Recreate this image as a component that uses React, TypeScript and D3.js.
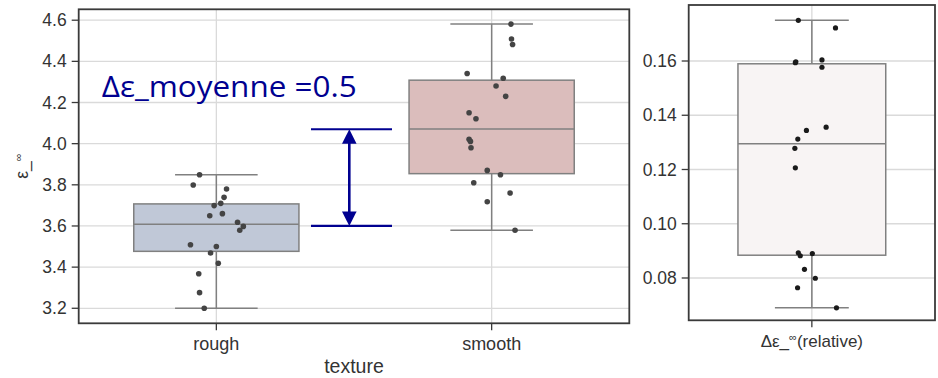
import React from "react";
import * as d3 from "d3";

// texture groups (left panel)
const categories = ["rough", "smooth"];
const roughValues = [3.849, 3.799, 3.78, 3.739, 3.71, 3.699, 3.65, 3.66, 3.618, 3.598, 3.579, 3.509, 3.5, 3.469, 3.419, 3.368, 3.276, 3.2];
const roughJitter = [-0.061, -0.084, 0.037, 0.028, 0.016, -0.008, -0.024, 0.022, 0.077, 0.098, 0.085, -0.094, 0, -0.021, 0.007, -0.064, -0.061, -0.044];
const smoothValues = [4.581, 4.509, 4.482, 4.341, 4.318, 4.28, 4.23, 4.15, 4.121, 4.021, 4.011, 3.98, 3.87, 3.849, 3.81, 3.76, 3.718, 3.579];
const smoothJitter = [0.07, 0.072, 0.076, -0.089, 0.042, 0.016, 0.051, -0.082, -0.057, -0.082, -0.077, -0.075, -0.016, 0.032, -0.065, 0.067, -0.016, 0.085];
const leftTicks = [3.2, 3.4, 3.6, 3.8, 4.0, 4.2, 4.4, 4.6];

// relative difference (right panel)
const relCategory = ["Δε_∞(relative)"];
const relValues = [0.175, 0.1722, 0.1594, 0.1597, 0.1604, 0.1577, 0.1356, 0.1344, 0.1312, 0.1278, 0.1206, 0.0893, 0.0882, 0.089, 0.0832, 0.0799, 0.0764, 0.069];
const relJitter = [-0.055, 0.096, -0.067, -0.065, 0.041, 0.041, 0.058, -0.022, -0.057, -0.069, -0.067, -0.055, -0.047, 0.002, -0.03, 0.014, -0.058, 0.1];
const rightTicks = [0.08, 0.1, 0.12, 0.14, 0.16];

// annotation
const annotationText = "Δε_moyenne =0.5";
const arrowLevels = [3.6, 4.07];

const FONT = "'Liberation Sans', Arial, sans-serif";
const TEXT = "#333333";
const GRID = "#dadada";
const FRAME = "#3a3a3a";
const BOXLINE = "#808080";
const NAVY = "#000090";

function boxStats(values: number[]) {
  const s = values.slice().sort(d3.ascending);
  const q1 = d3.quantile(s, 0.25)!;
  const med = d3.quantile(s, 0.5)!;
  const q3 = d3.quantile(s, 0.75)!;
  const iqr = q3 - q1;
  const lo = d3.min(s.filter((v) => v >= q1 - 1.5 * iqr))!;
  const hi = d3.max(s.filter((v) => v <= q3 + 1.5 * iqr))!;
  return { q1, med, q3, lo, hi };
}

function Box({ x, y, cat, values, jitter, fill, dot, r }: any) {
  const st = boxStats(values);
  const bw = x.bandwidth();
  const cx = x(cat) + bw / 2;
  const w = bw * 0.6;
  return (
    <g>
      <line x1={cx} x2={cx} y1={y(st.hi)} y2={y(st.lo)} stroke={BOXLINE} strokeWidth={1.5} />
      <line x1={cx - w / 4} x2={cx + w / 4} y1={y(st.hi)} y2={y(st.hi)} stroke={BOXLINE} strokeWidth={1.5} />
      <line x1={cx - w / 4} x2={cx + w / 4} y1={y(st.lo)} y2={y(st.lo)} stroke={BOXLINE} strokeWidth={1.5} />
      <rect x={cx - w / 2} width={w} y={y(st.q3)} height={y(st.q1) - y(st.q3)} fill={fill} stroke={BOXLINE} strokeWidth={1.5} />
      <line x1={cx - w / 2} x2={cx + w / 2} y1={y(st.med)} y2={y(st.med)} stroke={BOXLINE} strokeWidth={1.5} />
      {values.map((v: number, i: number) => (
        <circle key={i} cx={cx + jitter[i] * bw} cy={y(v)} r={r} fill={dot} />
      ))}
    </g>
  );
}

function Panel({ x, y, ticks, fmt, children, xLabel }: any) {
  const [x0, x1] = x.range();
  const [y0, y1] = y.range();
  return (
    <g fontFamily={FONT}>
      {ticks.map((t: number) => (
        <line key={"g" + t} x1={x0} x2={x1} y1={y(t)} y2={y(t)} stroke={GRID} strokeWidth={1.3} />
      ))}
      {x.domain().map((c: string) => (
        <line key={"v" + c} x1={x(c) + x.bandwidth() / 2} x2={x(c) + x.bandwidth() / 2} y1={y1} y2={y0} stroke={GRID} strokeWidth={1.3} />
      ))}
      {children}
      <rect x={x0} y={y1} width={x1 - x0} height={y0 - y1} fill="none" stroke={FRAME} strokeWidth={1.8} />
      {ticks.map((t: number) => (
        <g key={"t" + t}>
          <line x1={x0 - 7} x2={x0} y1={y(t)} y2={y(t)} stroke={FRAME} strokeWidth={1.3} />
          <text x={x0 - 12} y={y(t)} dy="0.35em" textAnchor="end" fontSize={17.5} fill={TEXT}>
            {fmt(t)}
          </text>
        </g>
      ))}
      {x.domain().map((c: string) => (
        <g key={"x" + c}>
          <line x1={x(c) + x.bandwidth() / 2} x2={x(c) + x.bandwidth() / 2} y1={y0} y2={y0 + 7} stroke={FRAME} strokeWidth={1.3} />
          {xLabel ? (
            xLabel(x(c) + x.bandwidth() / 2, y0 + 27)
          ) : (
            <text x={x(c) + x.bandwidth() / 2} y={y0 + 27} textAnchor="middle" fontSize={18} fill={TEXT}>
              {c}
            </text>
          )}
        </g>
      ))}
    </g>
  );
}

export default function App() {
  const xL = d3.scaleBand().domain(categories).range([78.7, 629.3]).padding(0);
  const yL = d3.scaleLinear().domain([3.127, 4.653]).range([323.3, 9.3]);
  const xR = d3.scaleBand().domain(relCategory).range([688.7, 935]).padding(0);
  const yR = d3.scaleLinear().domain([0.0644, 0.18065]).range([320.3, 5]);

  const ax = 349.3;
  const aTop = yL(arrowLevels[1]);
  const aBot = yL(arrowLevels[0]);

  return (
    <svg width={938} height={378} style={{ position: "absolute", left: 0, top: 0, background: "#fff" }}>
      <Panel x={xL} y={yL} ticks={leftTicks} fmt={d3.format(".1f")}>
        <Box x={xL} y={yL} cat="rough" values={roughValues} jitter={roughJitter} fill="#c0c8d7" dot="#444" r={2.8} />
        <Box x={xL} y={yL} cat="smooth" values={smoothValues} jitter={smoothJitter} fill="#dbbdbc" dot="#444" r={2.8} />
      </Panel>
      <text x={354} y={373} textAnchor="middle" fontFamily={FONT} fontSize={19.5} fill={TEXT}>
        texture
      </text>
      <text transform={`translate(28,166) rotate(-90)`} textAnchor="middle" fontFamily={FONT} fontSize={17.5} fill={TEXT}>
        ε_<tspan fontSize={11} dy={-6}>∞</tspan>
      </text>

      <Panel
        x={xR}
        y={yR}
        ticks={rightTicks}
        fmt={d3.format(".2f")}
        xLabel={(cx: number, yy: number) => (
          <text x={cx} y={yy} textAnchor="middle" fontSize={17} fill={TEXT}>
            Δε_<tspan fontSize={11} dy={-6}>∞</tspan>
            <tspan dy={6}>(relative)</tspan>
          </text>
        )}
      >
        <Box x={xR} y={yR} cat={relCategory[0]} values={relValues} jitter={relJitter} fill="#f8f4f4" dot="#1a1a1a" r={2.6} />
      </Panel>

      {/* annotation */}
      <g stroke={NAVY} strokeWidth={2.2}>
        <line x1={311} x2={392} y1={aTop} y2={aTop} />
        <line x1={311} x2={392} y1={aBot} y2={aBot} />
        <line x1={ax} x2={ax} y1={aTop + 10} y2={aBot - 10} strokeWidth={2.6} />
      </g>
      <path d={`M${ax},${aTop} l-7.3,14.5 h14.6 Z`} fill={NAVY} />
      <path d={`M${ax},${aBot} l-7.3,-14.5 h14.6 Z`} fill={NAVY} />
      <text x={101.7} y={96.5} fontFamily="'Open Sans', sans-serif" fontSize={29} fill={NAVY} textLength={255} lengthAdjust="spacingAndGlyphs">
        {annotationText}
      </text>
    </svg>
  );
}
